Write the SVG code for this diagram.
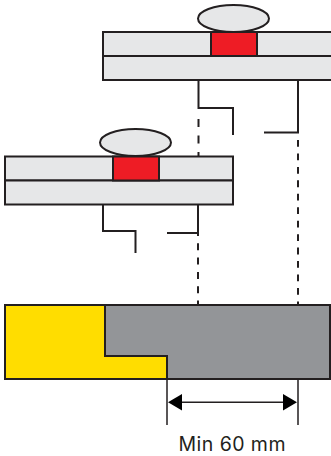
<svg xmlns="http://www.w3.org/2000/svg" width="331" height="456" viewBox="0 0 331 456">
<defs>
<style>
.pl{fill:#e6e7e8;stroke:#231f20;stroke-width:2}
.nut{fill:#ee1c25;stroke:#231f20;stroke-width:2}
.ln{fill:none;stroke:#231f20;stroke-width:2}
.dash{fill:none;stroke:#231f20;stroke-width:2}
.thin{fill:none;stroke:#231f20;stroke-width:1.5}
.lbl{font-family:"Inter","Roboto","Liberation Sans",sans-serif;font-size:19.500px;fill:#231f20}
</style>
</defs>
<rect width="331" height="456" fill="#fff"/>
<g id="upper-joint">
<ellipse class="pl" cx="233.500" cy="18.500" rx="35.500" ry="13.500"/>
<rect class="pl" x="103" y="32" width="229" height="24"/>
<rect class="pl" x="103" y="56" width="229" height="24"/>
<rect class="nut" x="211" y="32" width="46" height="24"/>
</g>
<g id="lower-joint">
<ellipse class="pl" cx="135.500" cy="142.500" rx="35.500" ry="13.500"/>
<rect class="pl" x="5" y="156.500" width="228" height="24"/>
<rect class="pl" x="5" y="180.500" width="228" height="24"/>
<rect class="nut" x="113" y="156.500" width="46" height="24"/>
</g>
<g id="base">
<path d="M5 305H105V356H167V379H5Z" fill="#ffdd00"/>
<path d="M105 305H330V379H167V356H105Z" fill="#939598"/>
<path class="ln" d="M105 305V356H167V379"/>
<rect class="ln" x="5" y="305" width="325" height="74"/>
</g>
<g id="connectors">
<path class="ln" d="M198.500 80V108H233V135"/>
<path class="ln" d="M298 80V132.500H264"/>
<path class="ln" d="M103 204.500V231H135.500V253"/>
<path class="ln" d="M198 204.500V233H167"/>
<path class="dash" stroke-dasharray="8 8.500" d="M198.500 119V156"/>
<path class="dash" stroke-dasharray="7 7.300" d="M198 229V305"/>
<path class="dash" stroke-dasharray="6.800 6.650" d="M298 140V305"/>
<path class="thin" d="M167 379V425M298 379V425"/>
<path class="thin" d="M180 402.300H285"/>
<path d="M168 402.300L182 394V410.500Z" fill="#000"/>
<path d="M297 402.300L283 394V410.500Z" fill="#000"/>
</g>
<g id="dimension-label">
<text class="lbl" x="232" y="451" text-anchor="middle" textLength="107" lengthAdjust="spacing">Min 60 mm</text>
</g>
</svg>
